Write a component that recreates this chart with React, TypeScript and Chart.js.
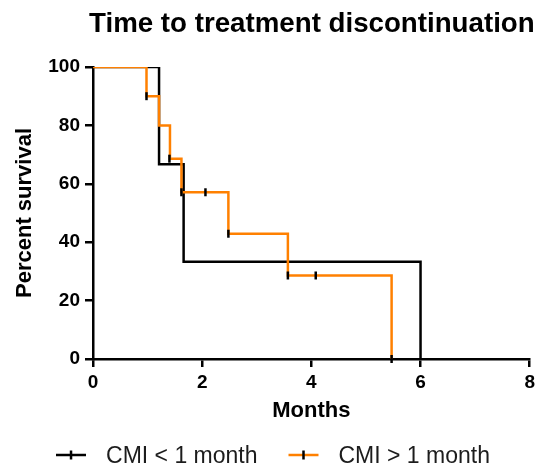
import React, { useEffect, useRef } from 'react';
import { Chart, registerables } from 'chart.js';

Chart.register(...registerables);

const chartTitle = 'Time to treatment discontinuation';
const xAxisTitle = 'Months';
const yAxisTitle = 'Percent survival';
const seriesLabels = ['CMI < 1 month', 'CMI > 1 month'];
const seriesColors = ['#000000', '#ff8000'];
const censorColor = '#000000';

// Kaplan-Meier steps: time (months) and percent survival after each event
const lowCmiMonths = [0, 1.21, 1.66, 6.0];
const lowCmiSurvival = [100, 66.7, 33.3, 0];
const highCmiMonths = [0, 0.98, 1.21, 1.41, 1.62, 2.48, 3.57, 5.47];
const highCmiSurvival = [100, 90, 80, 68.6, 57.1, 42.9, 28.6, 0];
// censor marks
const highCmiCensorMonths = [0.98, 1.4, 1.62, 2.06, 2.48, 3.57, 4.08, 5.47];
const highCmiCensorSurvival = [90, 68.6, 57.1, 57.1, 42.9, 28.6, 28.6, 0];

const xTicks = [0, 2, 4, 6, 8];
const yTicks = [0, 20, 40, 60, 80, 100];

const FONT = '"Liberation Sans", Arial, Helvetica, sans-serif';

const titleAndLegendPlugin = {
  id: 'kmTitleLegend',
  afterDraw(chart: any) {
    const ctx = chart.ctx as CanvasRenderingContext2D;
    const area = chart.chartArea;
    ctx.save();
    // title, centred over the plot area
    ctx.font = `bold 27.7px ${FONT}`;
    ctx.fillStyle = '#000';
    ctx.textAlign = 'center';
    ctx.textBaseline = 'alphabetic';
    ctx.fillText(chartTitle, (area.left + area.right) / 2 + 0.5, 32);

    // legend
    ctx.font = `23px ${FONT}`;
    const symW = 30;
    const gap = 20;
    const itemGap = 31;
    const widths = seriesLabels.map((t) => ctx.measureText(t).width);
    const total =
      widths.reduce((a, w) => a + symW + gap + w, 0) + itemGap * (seriesLabels.length - 1);
    let x = 273 - total / 2;
    const symY = 455;
    const textY = 463;
    seriesLabels.forEach((label, i) => {
      ctx.lineWidth = 2.5;
      ctx.strokeStyle = seriesColors[i];
      ctx.beginPath();
      ctx.moveTo(x, symY);
      ctx.lineTo(x + symW, symY);
      ctx.stroke();
      ctx.strokeStyle = censorColor;
      ctx.beginPath();
      ctx.moveTo(x + symW / 2, symY - 4.5);
      ctx.lineTo(x + symW / 2, symY + 4.5);
      ctx.stroke();
      ctx.fillStyle = '#1c1c1c';
      ctx.textAlign = 'left';
      ctx.textBaseline = 'alphabetic';
      ctx.fillText(label, x + symW + gap, textY);
      x += symW + gap + widths[i] + itemGap;
    });
    ctx.restore();
  },
};

export default function App() {
  const canvasRef = useRef<HTMLCanvasElement | null>(null);

  useEffect(() => {
    if (!canvasRef.current) return;
    Chart.defaults.font.family = FONT;

    const toPoints = (xs: number[], ys: number[]) => xs.map((x, i) => ({ x, y: ys[i] }));

    const axisGrid = {
      display: true,
      drawOnChartArea: false,
      drawTicks: true,
      tickLength: 8,
      color: '#000',
      lineWidth: 2.5,
    };

    const chart = new Chart(canvasRef.current, {
      type: 'line',
      data: {
        datasets: [
          {
            label: 'censored',
            data: toPoints(highCmiCensorMonths, highCmiCensorSurvival),
            showLine: false,
            pointStyle: 'line',
            rotation: 90,
            pointRadius: 4,
            pointBorderWidth: 2.5,
            pointBorderColor: censorColor,
            pointBackgroundColor: censorColor,
            borderColor: censorColor,
            clip: false,
            order: 0,
          } as any,
          {
            label: seriesLabels[1],
            data: toPoints(highCmiMonths, highCmiSurvival),
            stepped: 'before',
            borderColor: seriesColors[1],
            backgroundColor: seriesColors[1],
            borderWidth: 2.5,
            pointRadius: 0,
            fill: false,
            order: 1,
          },
          {
            label: seriesLabels[0],
            data: toPoints(lowCmiMonths, lowCmiSurvival),
            stepped: 'before',
            borderColor: seriesColors[0],
            backgroundColor: seriesColors[0],
            borderWidth: 2.5,
            pointRadius: 0,
            fill: false,
            order: 2,
          },
        ],
      },
      options: {
        animation: false,
        responsive: false,
        maintainAspectRatio: false,
        layout: { padding: { top: 67, left: 0, right: 7, bottom: 30 } },
        plugins: {
          legend: { display: false },
          tooltip: { enabled: false },
          title: { display: false },
        },
        scales: {
          x: {
            type: 'linear',
            min: xTicks[0],
            max: xTicks[xTicks.length - 1],
            afterBuildTicks: (s: any) => {
              s.ticks = xTicks.map((v) => ({ value: v }));
            },
            afterFit: (s: any) => {
              s.height = 79;
            },
            grid: axisGrid,
            border: { display: true, color: '#000', width: 2.5 },
            ticks: {
              color: '#000',
              padding: 4,
              font: { size: 19, weight: 'bold' },
              maxRotation: 0,
            },
            title: {
              display: true,
              text: xAxisTitle,
              color: '#000',
              font: { size: 22, weight: 'bold' },
              padding: { top: 0, bottom: 13.4 },
            },
          },
          y: {
            type: 'linear',
            min: yTicks[0],
            max: yTicks[yTicks.length - 1],
            afterBuildTicks: (s: any) => {
              s.ticks = yTicks.map((v) => ({ value: v }));
            },
            afterFit: (s: any) => {
              s.width = 93;
            },
            grid: axisGrid,
            border: { display: true, color: '#000', width: 2.5 },
            ticks: {
              color: '#000',
              padding: 5,
              font: { size: 19, weight: 'bold' },
            },
            title: {
              display: true,
              text: yAxisTitle,
              color: '#000',
              font: { size: 22, weight: 'bold' },
              padding: { top: 12.2, bottom: 0 },
            },
          },
        },
      },
      plugins: [titleAndLegendPlugin],
    });

    return () => {
      chart.destroy();
    };
  }, []);

  return (
    <div style={{ position: 'fixed', left: 0, top: 0, width: 539, height: 468, background: '#fff' }}>
      <canvas ref={canvasRef} width={539} height={468} />
    </div>
  );
}
